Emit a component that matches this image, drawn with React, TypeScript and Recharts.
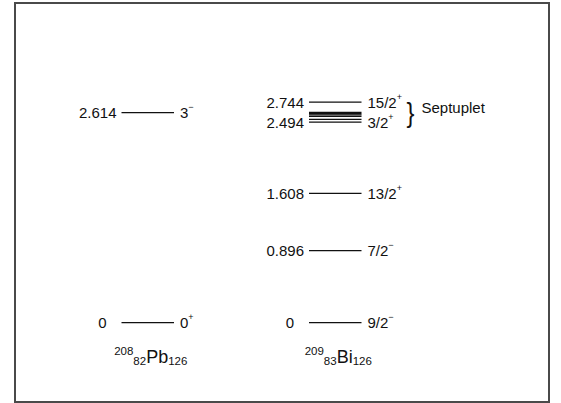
import React from 'react';
import { ComposedChart, XAxis, YAxis, Line, ReferenceLine, ReferenceArea, Label } from 'recharts';

// Columns (nuclei)
const nucleusSymbols = ['Pb', 'Bi'];
const nucleusMass = ['208', '209'];
const nucleusZ = ['82', '83'];
const nucleusN = ['126', '126'];
const nucleusColumns = [1, 2];

// 208Pb levels (MeV)
const pbEnergies = [0, 2.614];
const pbEnergyLabels = ['0', '2.614'];
const pbSpins = ['0', '3'];
const pbParities = ['+', '\u2212'];

// 209Bi levels (MeV)
const biEnergies = [0, 0.896, 1.608, 2.494, 2.744];
const biEnergyLabels = ['0', '0.896', '1.608', '2.494', '2.744'];
const biSpins = ['9/2', '7/2', '13/2', '3/2', '15/2'];
const biParities = ['\u2212', '\u2212', '+', '+', '+'];

// unlabelled inner members of the septuplet (MeV)
const septupletInner = [2.53, 2.566, 2.584, 2.6, 2.617];
const septupletRange = [2.494, 2.744];
const septupletText = 'Septuplet';

const HALF = 0.14;
const FONT = '"Liberation Sans", Arial, Helvetica, sans-serif';
const INK = '#111';
const FS = 15;

const levelLabel = (energyText: string, spin: string, parity: string) => (props: any) => {
  const vb = props.viewBox || {};
  const x = vb.x, y = vb.y, width = vb.width;
  const gap = energyText === '0' ? 15 : 5;
  return (
    <g>
      <text x={x - gap} y={y} textAnchor="end" dominantBaseline="central" fontSize={FS} fontFamily={FONT} fill={INK}>
        {energyText}
      </text>
      <text x={x + width + 6} y={y} dominantBaseline="central" fontSize={FS} fontFamily={FONT} fill={INK}>
        {spin}
        <tspan fontSize={9} dy={-5.5}>{parity}</tspan>
      </text>
    </g>
  );
};

const nucleusLabel = (i: number) => (props: any) => {
  const vb = props.viewBox || {};
  const cx = vb.x + vb.width / 2 + 3;
  const base = vb.y + 40;
  return (
    <text x={cx} y={base} textAnchor="middle" fontSize={18} fontFamily={FONT} fill={INK}>
      <tspan fontSize={11.5} dy={-8}>{nucleusMass[i]}</tspan>
      <tspan fontSize={11.5} dy={10.5}>{nucleusZ[i]}</tspan>
      <tspan fontSize={18} dy={-2.5}>{nucleusSymbols[i]}</tspan>
      <tspan fontSize={11.5} dy={2.5}>{nucleusN[i]}</tspan>
    </text>
  );
};

const braceLabel = (props: any) => {
  const vb = props.viewBox || {};
  const right = vb.x + vb.width;
  const cy = vb.y + vb.height / 2;
  const bx = right + 45;
  return (
    <g>
      <text x={bx} y={cy} textAnchor="start" dominantBaseline="central" fontSize={28} fontFamily={FONT} fill={INK}
        transform={`translate(${bx} ${cy}) scale(0.85 1) translate(${-bx} ${-cy})`}>
        {'}'}
      </text>
      <text x={right + 60} y={cy - 5} dominantBaseline="central" fontSize={FS} fontFamily={FONT} fill={INK}>
        {septupletText}
      </text>
    </g>
  );
};

const columnData = nucleusColumns.map((c) => ({ x: c, y: 0 }));

export default function App() {
  const pbCol = nucleusColumns[0];
  const biCol = nucleusColumns[1];
  return (
    <div style={{ position: 'absolute', left: 0, top: 0, width: 561, height: 403, background: '#fff' }}>
      <div
        style={{
          position: 'absolute',
          left: 14,
          top: 2,
          width: 536,
          height: 401,
          border: '2px solid #4a4a4a',
          boxSizing: 'border-box',
        }}
      />
      <div style={{ position: 'absolute', left: 0, top: 0 }}>
        <ComposedChart
          width={561}
          height={403}
          data={columnData}
          margin={{ top: 81.5, right: 132, bottom: 80.3, left: 54 }}
        >
          <XAxis dataKey="x" type="number" domain={[0.5, 2.5]} hide allowDataOverflow />
          <YAxis dataKey="y" type="number" domain={[0, 3]} hide allowDataOverflow />
          <Line dataKey="y" stroke="none" strokeOpacity={0} dot={false} activeDot={false} isAnimationActive={false} />
          {pbEnergies.map((e, i) => (
            <ReferenceLine
              key={'pb' + i}
              segment={[{ x: pbCol - HALF, y: e }, { x: pbCol + HALF, y: e }]}
              stroke={INK}
              strokeWidth={1.3}
              ifOverflow="visible"
            >
              <Label content={levelLabel(pbEnergyLabels[i], pbSpins[i], pbParities[i])} />
              {e === 0 ? <Label content={nucleusLabel(0)} /> : null}
            </ReferenceLine>
          ))}
          {biEnergies.map((e, i) => (
            <ReferenceLine
              key={'bi' + i}
              segment={[{ x: biCol - HALF, y: e }, { x: biCol + HALF, y: e }]}
              stroke={INK}
              strokeWidth={1.3}
              ifOverflow="visible"
            >
              <Label content={levelLabel(biEnergyLabels[i], biSpins[i], biParities[i])} />
              {e === 0 ? <Label content={nucleusLabel(1)} /> : null}
            </ReferenceLine>
          ))}
          {septupletInner.map((e, i) => (
            <ReferenceLine
              key={'sep' + i}
              segment={[{ x: biCol - HALF, y: e }, { x: biCol + HALF, y: e }]}
              stroke={INK}
              strokeWidth={1.3}
              ifOverflow="visible"
            />
          ))}
          <ReferenceArea
            x1={biCol - HALF}
            x2={biCol + HALF}
            y1={septupletRange[0]}
            y2={septupletRange[1]}
            fill="none"
            stroke="none"
            fillOpacity={0}
            ifOverflow="visible"
          >
            <Label content={braceLabel} />
          </ReferenceArea>
        </ComposedChart>
      </div>
    </div>
  );
}
